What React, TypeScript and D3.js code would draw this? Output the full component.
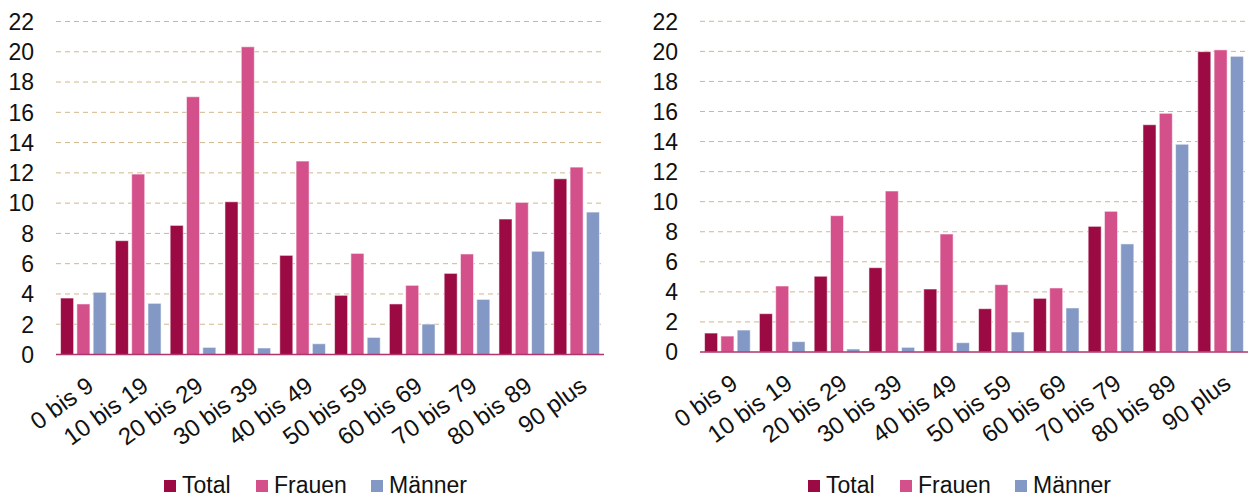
import React, { useRef, useEffect } from 'react';
import * as d3 from 'd3';

// age groups on the x axis
const categories = ['0 bis 9', '10 bis 19', '20 bis 29', '30 bis 39', '40 bis 49',
  '50 bis 59', '60 bis 69', '70 bis 79', '80 bis 89', '90 plus'];
const seriesNames = ['Total', 'Frauen', 'Männer'];
const yTicks = [0, 2, 4, 6, 8, 10, 12, 14, 16, 18, 20, 22];

// left chart
const leftTotal = [3.73, 7.52, 8.53, 10.09, 6.55, 3.91, 3.34, 5.36, 8.95, 11.61];
const leftFrauen = [3.34, 11.92, 17.03, 20.33, 12.78, 6.68, 4.57, 6.64, 10.05, 12.38];
const leftMaenner = [4.11, 3.38, 0.47, 0.43, 0.71, 1.13, 2.01, 3.64, 6.82, 9.41];

// right chart
const rightTotal = [1.26, 2.55, 5.04, 5.61, 4.19, 2.88, 3.57, 8.36, 15.12, 19.98];
const rightFrauen = [1.06, 4.39, 9.07, 10.71, 7.85, 4.48, 4.26, 9.36, 15.88, 20.1];
const rightMaenner = [1.46, 0.69, 0.2, 0.31, 0.62, 1.33, 2.93, 7.19, 13.82, 19.67];

const colors = ['#9b0a42', '#d4508a', '#8398c4'];
const font = '"Liberation Sans", Arial, sans-serif';

function drawChart(svg, offsetX, top, bottom, values) {
  const g = svg.append('g').attr('transform', `translate(${offsetX},0)`);

  const x0 = d3.scaleBand().domain(categories).range([56, 604]).padding(0);
  const x1 = d3.scaleBand().domain(seriesNames).range([0, x0.bandwidth()])
    .paddingInner(0.2).paddingOuter(0.28);
  const y = d3.scaleLinear().domain([0, 22]).range([bottom, top]);

  // dashed gridlines
  g.selectAll('.grid')
    .data(yTicks.filter(t => t > 0))
    .enter().append('line')
    .attr('x1', 56).attr('x2', 604)
    .attr('y1', d => y(d)).attr('y2', d => y(d))
    .attr('stroke', '#d0b78c')
    .attr('stroke-width', 1)
    .attr('stroke-dasharray', '5,4');

  // y labels
  g.selectAll('.ylab')
    .data(yTicks)
    .enter().append('text')
    .attr('x', 34).attr('y', d => y(d))
    .attr('dy', '0.36em')
    .attr('text-anchor', 'end')
    .style('font-family', font).style('font-size', '23px').attr('fill', '#111')
    .text(d => d);

  // bars
  const rows = categories.map((c, i) => ({ cat: c, vals: values.map(v => v[i]) }));
  const grp = g.selectAll('.grp')
    .data(rows)
    .enter().append('g')
    .attr('transform', d => `translate(${x0(d.cat)},0)`);
  grp.selectAll('rect')
    .data(d => d.vals.map((v, k) => ({ name: seriesNames[k], v, k })))
    .enter().append('rect')
    .attr('x', d => x1(d.name))
    .attr('width', x1.bandwidth())
    .attr('y', d => y(d.v))
    .attr('height', d => y(0) - y(d.v))
    .attr('fill', d => colors[d.k])
    .attr('stroke', 'rgba(255,255,255,0.55)')
    .attr('stroke-width', 1);

  // baseline
  g.append('line')
    .attr('x1', 56).attr('x2', 604)
    .attr('y1', y(0)).attr('y2', y(0))
    .attr('stroke', '#b0356c').attr('stroke-width', 1.5);

  // rotated category labels
  g.selectAll('.xlab')
    .data(categories)
    .enter().append('text')
    .attr('transform', d => `translate(${x0(d) + x0.bandwidth() / 2 + 2},${bottom + 21}) rotate(-36)`)
    .attr('text-anchor', 'end')
    .attr('dy', '0.7em')
    .style('font-family', font).style('font-size', '24px').attr('fill', '#111')
    .text(d => d);

  // legend
  const lx = [164, 256, 371];
  const leg = g.selectAll('.leg')
    .data(seriesNames)
    .enter().append('g')
    .attr('transform', (d, i) => `translate(${lx[i]},480)`);
  leg.append('rect').attr('width', 12).attr('height', 12).attr('fill', (d, i) => colors[i]);
  leg.append('text')
    .attr('x', 18).attr('y', 12.5)
    .style('font-family', font).style('font-size', '23px').attr('fill', '#111')
    .text(d => d);
}

export default function App() {
  const ref = useRef(null);

  useEffect(() => {
    const svg = d3.select(ref.current);
    svg.selectAll('*').remove();
    drawChart(svg, 0, 21.5, 354.5, [leftTotal, leftFrauen, leftMaenner]);
    drawChart(svg, 644, 21.3, 352, [rightTotal, rightFrauen, rightMaenner]);
  }, []);

  return (
    <svg ref={ref} width={1250} height={497}
      style={{ position: 'absolute', left: 0, top: 0, background: '#fff' }} />
  );
}
